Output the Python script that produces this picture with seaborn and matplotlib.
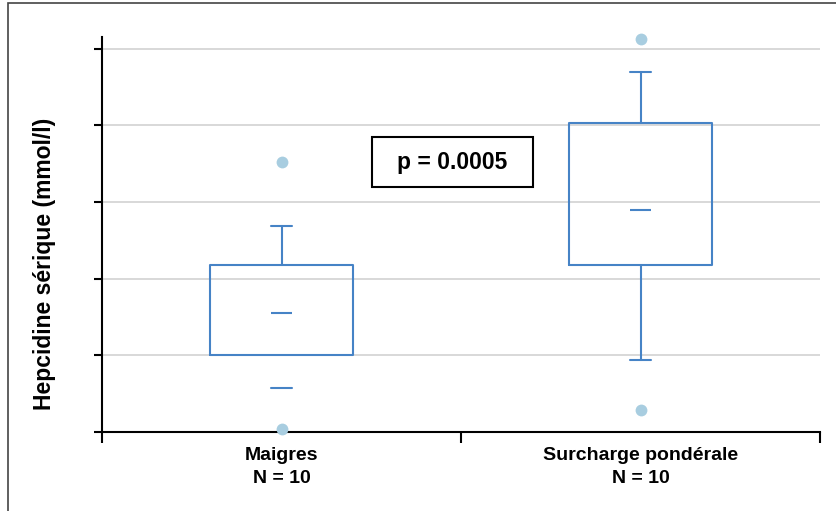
import numpy as np
import pandas as pd
import seaborn as sns
import matplotlib.pyplot as plt
from matplotlib.patches import Rectangle

# summary values (arbitrary units, 1 unit = 1 gridline step)
groups = ["Maigres\nN = 10", "Surcharge pondérale\nN = 10"]
q1 = [1.00, 2.18]
med = [1.55, 2.90]
q3 = [2.18, 4.03]
whislo = [0.58, 0.94]
whishi = [2.69, 4.70]
fliers_lo = [0.04, 0.29]
fliers_hi = [3.52, 5.13]
p_label = "p = 0.0005"

BLUE = "#4683c6"
DOT = "#a8cde0"

sns.set_theme(style="white")
plt.rcParams['font.family'] = ['Liberation Sans', 'DejaVu Sans']
plt.rcParams['text.color'] = 'black'
plt.rcParams['xtick.color'] = 'black'
plt.rcParams['ytick.color'] = 'black'

fig = plt.figure(figsize=(8.36, 5.11), dpi=100)
ax = fig.add_axes([0.122, 0.1546, 0.859, 0.773])

# outliers
out = pd.DataFrame({
    "group": groups + groups,
    "value": fliers_lo + fliers_hi,
})
sns.stripplot(data=out, x="group", y="value", order=groups, jitter=False,
              color=DOT, size=8.5, linewidth=0, ax=ax, zorder=4)
for c in ax.collections:
    c.set_clip_on(False)

stats = []
for i, g in enumerate(groups):
    stats.append(dict(label=g, q1=q1[i], med=med[i], q3=q3[i],
                      whislo=whislo[i], whishi=whishi[i], fliers=[]))

line = dict(color=BLUE, linewidth=1.5)
bp = ax.bxp(stats, positions=[0, 1], widths=0.4, capwidths=0.06,
            showfliers=False, manage_ticks=False,
            boxprops=line, whiskerprops=line, capprops=line,
            medianprops=line)
for m in bp['medians']:
    m.set_visible(False)
# the lower whisker of the first group has no stem in the reference
bp['whiskers'][0].set_visible(False)

# short median dashes
ax.hlines(med, np.arange(2) - 0.03, np.arange(2) + 0.03, color=BLUE, lw=1.5, zorder=3)

ax.set_xlim(-0.5, 1.5)
ax.set_ylim(0, 5.15)
ax.set_yticks(range(6))
ax.set_yticklabels([])
ax.yaxis.grid(True, color="#d2d2d2", lw=1.2)
ax.set_axisbelow(True)
ax.tick_params(axis="y", left=True, length=6, width=1.5, color="black")

ax.set_xticks([0, 1])
ax.set_xticklabels(groups, fontsize=14, fontweight="bold", color="black")
for t in ax.get_xticklabels():
    t.set_linespacing(1.45)
ax.set_xticks([-0.5, 0.5, 1.5], minor=True)
ax.tick_params(axis="x", which="major", length=0, pad=11)
ax.tick_params(axis="x", which="minor", bottom=True, length=8, width=1.5, color="black")
ax.set_xlabel("")
ax.set_ylabel("")

for s in ["top", "right"]:
    ax.spines[s].set_visible(False)
for s in ["left", "bottom"]:
    ax.spines[s].set_color("black")
    ax.spines[s].set_linewidth(1.5)

fig.text(45 / 836, 1 - 264 / 511, "Hepcidine sérique (mmol/l)", rotation=90,
         ha="center", va="center", fontsize=16.5, fontweight="bold", color="black")

# p-value box
ax.add_patch(Rectangle((0.253, 3.195), 0.447, 0.649, facecolor="white",
                       edgecolor="black", lw=1.5, zorder=5))
ax.text(0.476, 3.52, p_label, ha="center", va="center", fontsize=16.5,
        fontweight="bold", color="black", zorder=6)

# outer frame of the figure
fig.add_artist(Rectangle((8 / 836, -0.1), 1.2, 1 - 3 / 511 + 0.1,
                         transform=fig.transFigure, fill=False,
                         edgecolor="#444444", lw=1.2))

fig.savefig("out.png", dpi=100)
